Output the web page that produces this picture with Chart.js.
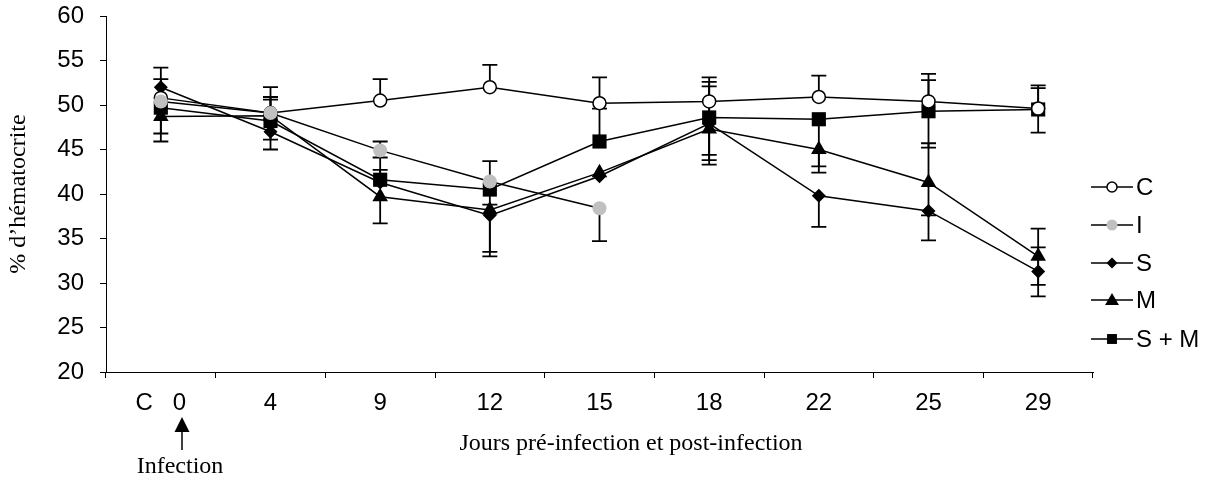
<!DOCTYPE html>
<html>
<head>
<meta charset="utf-8">
<script src="https://cdn.jsdelivr.net/npm/chart.js"></script>
<style>
  html, body { margin: 0; padding: 0; background: #fff; }
  #wrap { width: 1207px; height: 480px; }
</style>
</head>
<body>
<div id="wrap"><canvas id="hema" width="1207" height="480"></canvas></div>
<script>
// days before / after infection
const days = ['C   0', '4', '9', '12', '15', '18', '22', '25', '29'];
const groupNames = ['C', 'I', 'S', 'M', 'S + M'];
const yTicks = [20, 25, 30, 35, 40, 45, 50, 55, 60];

// mean haematocrit (%) per group
const valC  = [50.8, 49.1, 50.5, 52.0, 50.2, 50.4, 50.9, 50.4, 49.6];
const valI  = [50.4, 49.1, 44.9, 41.4, 38.4, null, null, null, null];
const valS  = [52.0, 47.0, 41.3, 37.6, 42.0, 47.9, 39.8, 38.1, 31.3];
const valM  = [48.7, 48.8, 39.7, 38.2, 42.4, 47.3, 45.0, 41.3, 33.0];
const valSM = [49.7, 48.2, 41.6, 40.5, 45.9, 48.6, 48.4, 49.3, 49.5];

// error bars (upper / lower half)
const upC  = [3.4, 2.9, 2.4, 2.5, 2.9, 2.7, 2.4, 3.1, 2.6];
const dnC  = [0, 0, 0, 0, 0, 0, 0, 0, 2.7];
const upI  = [0, 1.8, 1.0, 2.3, 0, 0, 0, 0, 0];
const dnI  = [0, 0, 0, 0, 3.7, 0, 0, 0, 0];
const upS  = [0.9, 0, 1.4, 0, 0, 4.2, 0, 0, 2.7];
const dnS  = [0, 2.0, 0, 4.6, 0, 4.1, 3.5, 3.3, 2.8];
const upM  = [0, 1.8, 0, 0, 0, 0, 0, 4.4, 3.1];
const dnM  = [2.8, 0, 3.0, 4.7, 0, 4.0, 2.6, 3.7, 3.2];
const upSM = [0, 0, 2.5, 0, 3.7, 4.0, 0, 3.5, 2.4];
const dnSM = [2.9, 2.1, 0, 1.7, 0, 4.2, 5.3, 4.1, 0];

const GREY = '#c0c0c0';
const SANS = '"Liberation Sans", Arial, sans-serif';
const SERIF = '"Liberation Serif", "Times New Roman", serif';

function series(label, data, up, dn, style, radius, fill, stroke, bw, order) {
  return {
    label: label, data: data, errUp: up, errDown: dn,
    borderColor: '#000', borderWidth: 1.5, fill: false, tension: 0,
    pointStyle: style, pointRadius: radius, pointHoverRadius: radius,
    pointBackgroundColor: fill, pointBorderColor: stroke, pointBorderWidth: bw,
    order: order
  };
}

const datasets = [
  series(groupNames[0], valC,  upC,  dnC,  'circle',   6.5, '#fff', '#000', 1.5, 1),
  series(groupNames[1], valI,  upI,  dnI,  'circle',   7,   GREY,   GREY,   0,   0),
  series(groupNames[2], valS,  upS,  dnS,  'rectRot',  7,   '#000', '#000', 0,   2),
  series(groupNames[3], valM,  upM,  dnM,  'triangle', 9,   '#000', '#000', 0,   3),
  series(groupNames[4], valSM, upSM, dnSM, 'rect',     10,  '#000', '#000', 0,   4)
];

function marker(ctx, style, x, y, r, fill, stroke, bw) {
  ctx.save();
  ctx.beginPath();
  if (style === 'circle') {
    ctx.arc(x, y, r, 0, Math.PI * 2);
  } else if (style === 'rectRot') {
    ctx.moveTo(x, y - r); ctx.lineTo(x + r, y); ctx.lineTo(x, y + r); ctx.lineTo(x - r, y);
  } else if (style === 'triangle') {
    ctx.moveTo(x, y - r);
    ctx.lineTo(x + r * 0.866, y + r * 0.5);
    ctx.lineTo(x - r * 0.866, y + r * 0.5);
  } else {
    const h = r * Math.SQRT1_2;
    ctx.rect(x - h, y - h, 2 * h, 2 * h);
  }
  ctx.closePath();
  ctx.fillStyle = fill;
  ctx.fill();
  if (bw > 0) { ctx.lineWidth = bw; ctx.strokeStyle = stroke; ctx.stroke(); }
  ctx.restore();
}

// vertical error bars with caps, under the markers
const errorBars = {
  id: 'errorBars',
  beforeDatasetsDraw(chart) {
    const ctx = chart.ctx, ys = chart.scales.y;
    ctx.save();
    ctx.strokeStyle = '#000';
    ctx.lineWidth = 1.8;
    chart.data.datasets.forEach((ds, di) => {
      const meta = chart.getDatasetMeta(di);
      ds.data.forEach((v, i) => {
        if (v === null) return;
        const x = meta.data[i].x;
        [[ds.errUp[i], 1], [ds.errDown[i], -1]].forEach(([e, s]) => {
          if (!e) return;
          const y0 = ys.getPixelForValue(v);
          const y1 = ys.getPixelForValue(v + s * e);
          ctx.beginPath();
          ctx.moveTo(x, y0); ctx.lineTo(x, y1);
          ctx.moveTo(x - 7.5, y1); ctx.lineTo(x + 7.5, y1);
          ctx.stroke();
        });
      });
    });
    ctx.restore();
  }
};

// legend, x title and infection marker
const annotations = {
  id: 'annotations',
  afterDraw(chart) {
    const ctx = chart.ctx;
    ctx.save();

    const legendY = [187, 225, 263, 300, 339];
    const legendR = [5, 5.5, 5.5, 8, 7];
    chart.data.datasets.forEach((ds, i) => {
      const y = legendY[i];
      ctx.strokeStyle = '#000';
      ctx.lineWidth = 1.5;
      ctx.beginPath(); ctx.moveTo(1091, y); ctx.lineTo(1133, y); ctx.stroke();
      marker(ctx, ds.pointStyle, 1112, y + (ds.pointStyle === 'triangle' ? 1 : 0), legendR[i],
             ds.pointBackgroundColor, ds.pointBorderColor, ds.pointBorderWidth);
      ctx.fillStyle = '#000';
      ctx.font = '24px ' + SANS;
      ctx.textAlign = 'left';
      ctx.textBaseline = 'middle';
      ctx.fillText(ds.label, 1136, y + 1);
    });

    ctx.fillStyle = '#000';
    ctx.font = '24px ' + SERIF;
    ctx.textAlign = 'center';
    ctx.textBaseline = 'alphabetic';
    ctx.fillText('Jours pré-infection et post-infection', 631, 450);

    // arrow under day 0
    ctx.beginPath();
    ctx.moveTo(182, 417); ctx.lineTo(189.5, 432); ctx.lineTo(174.5, 432);
    ctx.closePath(); ctx.fill();
    ctx.lineWidth = 1.5;
    ctx.beginPath(); ctx.moveTo(182, 432); ctx.lineTo(182, 450); ctx.stroke();
    ctx.fillText('Infection', 180, 473);
    ctx.restore();
  }
};

new Chart(document.getElementById('hema').getContext('2d'), {
  type: 'line',
  data: { labels: days, datasets: datasets },
  plugins: [errorBars, annotations],
  options: {
    responsive: false,
    animation: false,
    events: [],
    layout: { padding: { top: 16, right: 114, left: 0, bottom: 0 } },
    plugins: { legend: { display: false }, tooltip: { enabled: false } },
    scales: {
      x: {
        type: 'category',
        offset: true,
        afterFit(scale) { scale.height = 108; scale.paddingLeft = 0; scale.paddingRight = 0; },
        border: { color: '#000', width: 1 },
        grid: { offset: true, drawOnChartArea: false, drawTicks: true, tickLength: 6, color: '#000' },
        ticks: { color: '#000', font: { family: SANS, size: 24 }, padding: 11, autoSkip: false, maxRotation: 0 }
      },
      y: {
        min: 20, max: 60,
        afterFit(scale) { scale.width = 106; scale.paddingTop = 0; scale.paddingBottom = 0; },
        afterBuildTicks(scale) { scale.ticks = yTicks.map(v => ({ value: v })); },
        border: { color: '#000', width: 1 },
        grid: { drawOnChartArea: false, drawTicks: true, tickLength: 6, color: '#000' },
        ticks: { color: '#000', font: { family: SANS, size: 24 }, padding: 16 },
        title: {
          display: true, text: '% d’hématocrite', color: '#000',
          font: { family: SERIF, size: 24 }, padding: { top: 4, bottom: 0 }
        }
      }
    }
  }
});
</script>
</body>
</html>
